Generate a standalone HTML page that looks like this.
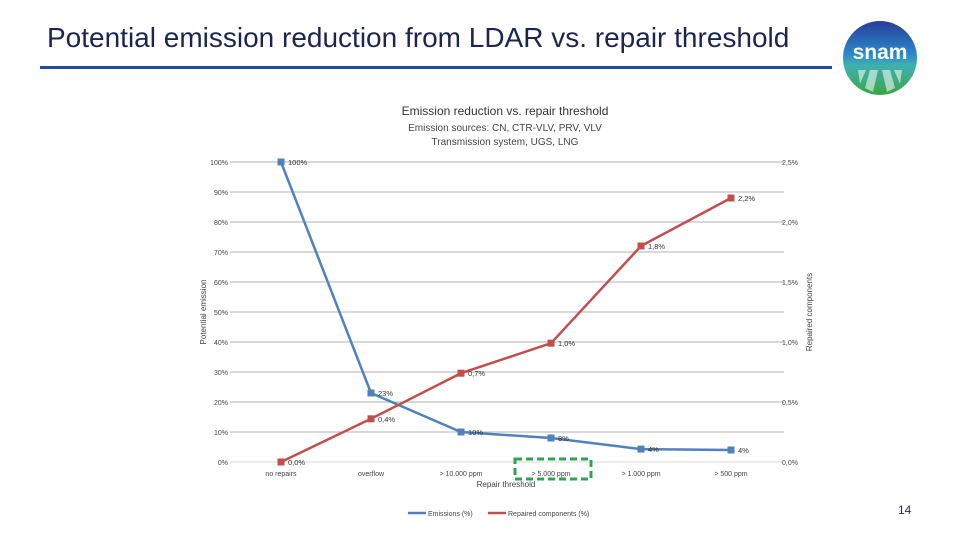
<!DOCTYPE html>
<html><head><meta charset="utf-8">
<style>
body{margin:0;width:960px;height:540px;background:#fff;font-family:"Liberation Sans",sans-serif;overflow:hidden;position:relative}
.h{position:absolute;left:47px;top:22px;font-size:28px;color:#1c2550}
.bar{position:absolute;left:40px;top:66px;width:792px;height:3px;background:#1f4e9c}
.pg{position:absolute;left:898px;top:503px;font-size:12px;color:#1f2a5a}
</style></head><body>
<div class="h">Potential emission reduction from LDAR vs. repair threshold</div>
<div class="bar"></div>
<svg style="position:absolute;left:840px;top:18px" width="80" height="80">
<defs><linearGradient id="lg" x1="0" y1="0" x2="0" y2="1"><stop offset="0" stop-color="#2a3d9a"/><stop offset="0.45" stop-color="#2b8ac8"/><stop offset="0.6" stop-color="#3fb0b0"/><stop offset="1" stop-color="#3aa645"/></linearGradient></defs>
<circle cx="40" cy="40" r="37" fill="url(#lg)"/>
<text x="40" y="41" text-anchor="middle" font-size="21" font-weight="bold" fill="#fff" font-family="Liberation Sans,sans-serif">snam</text>
<path d="M18 52 L26 52 L20 66 Z M30 52 L38 52 L33 74 L25 70 Z M42 52 L50 52 L55 70 L47 74 Z M54 52 L62 52 L60 66 Z" fill="#ffffff" opacity="0.55"/>
</svg>
<svg id="c" width="960" height="540" style="position:absolute;left:0;top:0"></svg>
<div class="pg">14</div>
<script>
const categories=["no repairs","overflow","> 10.000 ppm","> 5.000 ppm","> 1.000 ppm","> 500 ppm"];
const emissions=[100,23,10,8,4.3,4];
const repaired=[0,0.36,0.74,0.99,1.8,2.2];
const leftTicks=[0,10,20,30,40,50,60,70,80,90,100];
const rightTicks=[0,0.5,1.0,1.5,2.0,2.5];
const svg=document.getElementById('c');const NS='http://www.w3.org/2000/svg';
function mk(t,a,txt){const e=document.createElementNS(NS,t);for(const k in a)e.setAttribute(k,a[k]);if(txt!==undefined)e.textContent=txt;svg.appendChild(e);return e;}
const x0=236,x1=776,yTop=162,yBot=462;
const xs=i=>x0+(i+0.5)*(x1-x0)/categories.length;
const yl=v=>yBot-(v/100)*(yBot-yTop);
const yr=v=>yBot-(v/2.5)*(yBot-yTop);
const fs='font-family:"Liberation Sans",sans-serif';
let t;
t=mk('text',{x:505,y:115,'text-anchor':'middle','font-size':12,fill:'#333',style:fs},'Emission reduction vs. repair threshold');


t=mk('text',{x:505,y:131,'text-anchor':'middle','font-size':10,fill:'#444',style:fs},'Emission sources: CN, CTR-VLV, PRV, VLV');


t=mk('text',{x:505,y:145,'text-anchor':'middle','font-size':10,fill:'#444',style:fs},'Transmission system, UGS, LNG');


leftTicks.forEach(v=>{
 const g=mk('line',{x1:230,x2:784,y1:yl(v),y2:yl(v),stroke:v==0?'#ccc':'#999','stroke-width':0.8});
 
 
 const l=mk('text',{x:228,y:yl(v)+3,'text-anchor':'end','font-size':7,fill:'#444',style:fs},v+'%');
 
 
});
rightTicks.forEach(v=>{
 const l=mk('text',{x:782,y:yr(v)+3,'font-size':7,fill:'#444',style:fs},v.toFixed(1).replace('.',',')+'%');
 
 
});
categories.forEach((c,i)=>{
 const l=mk('text',{x:xs(i),y:476,'text-anchor':'middle','font-size':7,fill:'#444',style:fs},c);
 
 
});
t=mk('text',{x:506,y:487,'text-anchor':'middle','font-size':8,fill:'#444',style:fs},'Repair threshold');


t=mk('text',{transform:'translate(206,312) rotate(-90)','text-anchor':'middle','font-size':8,fill:'#444',style:fs},'Potential emission');


t=mk('text',{transform:'translate(812,312) rotate(-90)','text-anchor':'middle','font-size':8,fill:'#444',style:fs},'Repaired components');


t=mk('rect',{x:515,y:459,width:76,height:20,fill:'none',stroke:'#2ea44f','stroke-width':3,'stroke-dasharray':'7,4'});


function series(vals,yf,col,name,fmt){
 const p=mk('polyline',{points:vals.map((v,i)=>xs(i)+','+yf(v)).join(' '),fill:'none',stroke:col,'stroke-width':2.5});
 
 
 vals.forEach((v,i)=>{
  const m=mk('rect',{x:xs(i)-3.5,y:yf(v)-3.5,width:7,height:7,fill:col});
  
  
  const l=mk('text',{x:xs(i)+7,y:yf(v)+3,'font-size':7.5,fill:'#333',style:fs},fmt(v));
  
  
 });
}
series(emissions,yl,'#4f81bd','emissions',v=>Math.round(v)+'%');
series(repaired,yr,'#c0504d','repaired',v=>v.toFixed(1).replace('.',',')+'%');
[['#4f81bd','Emissions (%)',408],['#c0504d','Repaired components (%)',488]].forEach(([c,n,x])=>{
 const ln=mk('line',{x1:x,x2:x+18,y1:513,y2:513,stroke:c,'stroke-width':2.5});
 
 
 const tx=mk('text',{x:x+20,y:516,'font-size':7,fill:'#444',style:fs},n);
 
 
});
</script>
</body></html>
